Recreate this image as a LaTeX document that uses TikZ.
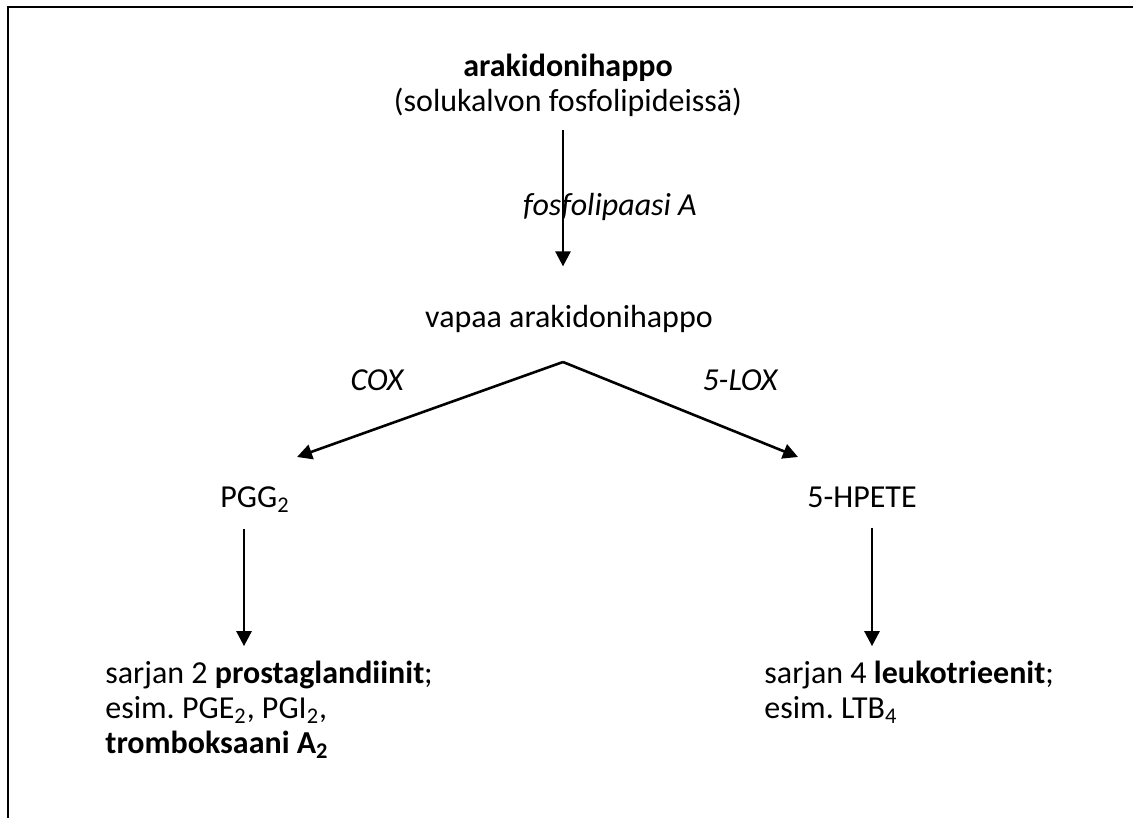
\documentclass[tikz,border=0pt]{standalone}
\usepackage{fontspec}
\setmainfont{Carlito}
\usetikzlibrary{arrows.meta}
\frenchspacing
\tikzset{
  teksti/.style={inner sep=0pt, font=\fontsize{16}{17.5}\selectfont},
  entsyymi/.style={teksti, font=\fontsize{16}{17.5}\selectfont\itshape},
  nuoli/.style={-{Triangle[length=7.5pt,width=7.5pt]}, line width=1.3pt},
}
\begin{document}
\begin{tikzpicture}[x=0.5pt,y=-0.5pt]
	\useasboundingbox (0,0) rectangle (1133,818);
	% kehys (vain ylä- ja vasen reuna)
	\draw[line width=1.2pt] (8,818) -- (8,7) -- (1133,7);
	\node[teksti, align=center, anchor=base] (arakidoni) at (568,112) {\textbf{arakidonihappo}\\(solukalvon fosfolipideissä)};
	\node[entsyymi, anchor=base] (fosfo) at (610,215) {fosfolipaasi A};
	\node[teksti, anchor=base] (vapaa) at (569,327) {vapaa arakidonihappo};
	\node[entsyymi, anchor=base] (cox) at (377,390) {COX};
	\node[entsyymi, anchor=base] (lox) at (740,390) {5-LOX};
	\node[teksti, anchor=base] (pgg) at (255,507) {PGG\textsubscript{2}};
	\node[teksti, anchor=base] (hpete) at (862,507) {5-HPETE};
	\node[teksti, align=left, anchor=base west] (prosta) at (105,753) {sarjan 2 \textbf{prostaglandiinit};\\esim. PGE\textsubscript{2}, PGI\textsubscript{2},\\\textbf{tromboksaani A\textsubscript{2}}};
	\node[teksti, align=left, anchor=base west] (leuko) at (764,718) {sarjan 4 \textbf{leukotrieenit};\\esim. LTB\textsubscript{4}};
	% nuolet
	\coordinate (haara) at (563,362);
	\coordinate (coxkarki) at (297,457);
	\coordinate (loxkarki) at (798,457);
	\draw[nuoli, shorten <=6pt, shorten >=19pt] ([xshift=-2.5pt]arakidoni.south) -- ([xshift=-2.5pt]arakidoni.south |- vapaa.north);
	\draw[nuoli] (haara) -- (coxkarki);
	\draw[nuoli] (haara) -- (loxkarki);
	\draw[nuoli, shorten <=8pt, shorten >=7pt] ([xshift=-5.5pt]pgg.south) -- ([xshift=-5.5pt]pgg.south |- prosta.north);
	\draw[nuoli, shorten <=10pt, shorten >=7pt] ([xshift=5pt]hpete.south) -- ([xshift=5pt]hpete.south |- leuko.north);
\end{tikzpicture}
\end{document}
